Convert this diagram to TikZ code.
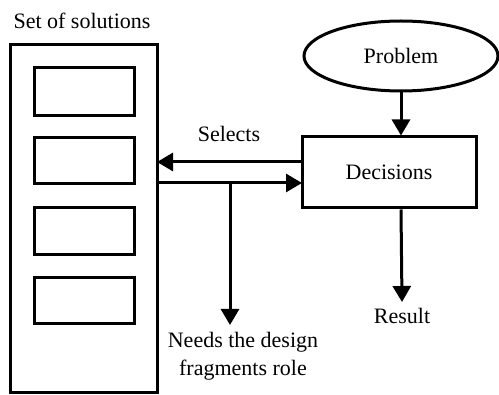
\documentclass[tikz,border=0pt]{standalone}
\usepackage{fontspec}
\setmainfont{Liberation Serif}
\usetikzlibrary{arrows.meta,shapes.geometric}
\begin{document}
\begin{tikzpicture}[x=1pt,y=-1pt,
  box/.style={draw,line width=3pt,rectangle,inner sep=0pt},
  lbl/.style={font=\fontsize{22}{28}\selectfont,inner sep=0pt},
  arr/.style={line width=3pt,-{Triangle[width=18pt,length=16pt]}},
  ln/.style={line width=3pt}]
\useasboundingbox (0,0) rectangle (499,395);
\node[box,minimum width=147pt,minimum height=348pt] (sol) at (83.5,219) {};
\node[box,minimum width=100pt,minimum height=48pt] (b1) at (84,92) {};
\node[box,minimum width=100pt,minimum height=46pt] (b2) at (84,161) {};
\node[box,minimum width=100pt,minimum height=47pt] (b3) at (84,231.5) {};
\node[box,minimum width=100pt,minimum height=46pt] (b4) at (84,301) {};
\node[lbl] (title) at (82,21) {Set of solutions};
\node[draw,line width=3pt,ellipse,minimum width=194pt,minimum height=70pt,inner sep=0pt,lbl] (prob) at (401,56) {Problem};
\node[box,minimum width=174pt,minimum height=71pt,lbl] (dec) at (389,172.5) {Decisions};
\node[lbl] (sel) at (229,134) {Selects};
\node[lbl,align=center] (needs) at (243,356) {Needs the design\\fragments role};
\node[lbl] (res) at (402,316) {Result};
\coordinate (s1) at (157,162);
\coordinate (d1) at (302,162);
\coordinate (s2) at (157,183);
\coordinate (d2) at (302,183);
\coordinate (br) at (230,183);
\coordinate (brend) at (230,325);
\coordinate (resend) at (402,302);
\draw[arr] (prob.south) -- (prob.south |- dec.north);
\draw[arr] (d1) -- (s1);
\draw[arr] (s2) -- (d2);
\draw[arr] (br) -- (brend);
\draw[arr] (prob.south |- dec.south) -- (resend);
\end{tikzpicture}
\end{document}
